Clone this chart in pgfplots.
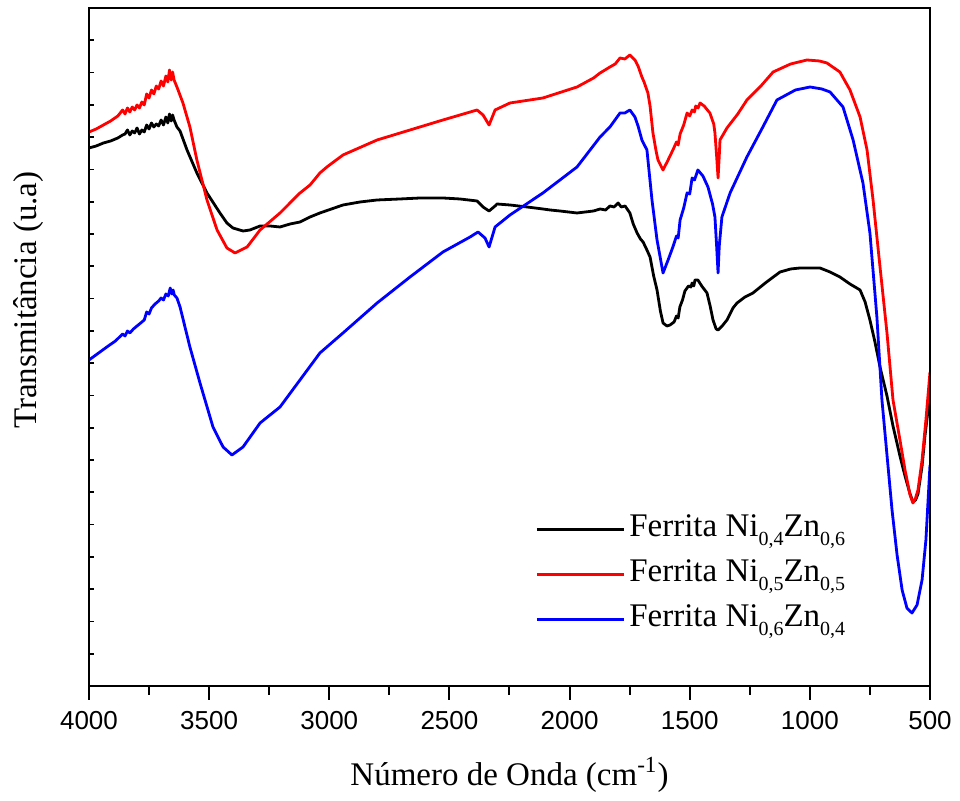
\documentclass[border=0pt]{standalone}
\usepackage{fontspec}
\setmainfont{Liberation Serif}
\newfontfamily\arialfont{Liberation Sans}
\usepackage{pgfplots}
\pgfplotsset{compat=1.18}
\definecolor{myred}{RGB}{255,0,0}
\definecolor{myblue}{RGB}{0,0,255}
\newcommand\sub[1]{\raisebox{-4.5pt}{\fontsize{10}{12}\selectfont #1}}

\pgfplotstableread{
w v
4000 538
3970 540
3940 543
3910 545
3880 548
3860 551
3850 552
3840 556
3830 551
3820 555
3810 553
3800 558
3790 552
3780 556
3770 554
3760 561
3750 557
3740 563
3730 559
3720 562
3710 560
3700 566
3690 561
3680 569
3672 563
3665 572
3658 565
3652 571
3646 566
3634 559
3621 555
3592 536
3551 513
3509 493
3455 473
3426 463
3401 458
3359 455
3330 456
3288 460
3247 460
3205 459
3163 462
3122 464
3080 469
3039 473
2943 481
2872 484
2801 486
2706 487
2622 488
2527 488
2456 487
2385 485
2360 479
2335 475
2310 480
2302 482
2248 481
2177 479
2111 477
2081 476
2040 475
1969 473
1900 475
1873 477
1850 476
1832 480
1815 479
1798 483
1785 479
1769 480
1749 473
1735 462
1719 453
1705 447
1694 444
1680 437
1665 429
1650 410
1636 396
1622 375
1611 363
1595 360
1582 361
1565 364
1555 370
1548 368
1541 379
1530 386
1520 395
1505 400
1495 399
1490 403
1483 400
1478 406
1466 406
1450 400
1428 393
1415 380
1403 366
1390 357
1382 356
1365 360
1345 366
1320 378
1303 383
1270 389
1237 393
1180 404
1124 414
1080 417
1041 418
1012 418
958 418
916 414
875 409
833 402
791 396
770 384
750 366
730 345
708 319
679 290
654 260
625 230
604 210
583 192
571 184
560 186
550 192
533 220
521 250
512 268
500 291
}\blackdata

\pgfplotstableread{
w v
4000 554
3970 557
3940 561
3910 565
3880 570
3860 576
3850 572
3840 578
3830 574
3820 579
3810 576
3800 581
3790 578
3780 584
3770 581
3760 592
3750 588
3740 596
3730 592
3720 600
3710 597
3700 605
3690 600
3680 610
3672 604
3665 616
3658 606
3652 614
3646 606
3634 599
3609 583
3580 559
3551 526
3509 486
3467 456
3426 438
3392 433
3342 439
3288 456
3205 473
3122 493
3080 501
3039 513
3010 519
2943 531
2801 546
2664 556
2527 566
2385 576
2360 571
2335 561
2310 576
2248 583
2111 588
1969 599
1900 608
1873 613
1832 619
1810 622
1790 628
1770 627
1749 631
1728 626
1715 620
1699 609
1690 604
1674 593
1665 580
1653 553
1640 535
1632 526
1611 516
1590 526
1570 536
1555 544
1548 541
1540 552
1525 561
1511 573
1500 570
1490 576
1480 574
1475 580
1465 578
1457 583
1440 580
1416 573
1400 562
1395 553
1388 530
1382 508
1377 530
1374 546
1345 558
1300 572
1262 586
1200 601
1153 614
1080 622
1012 626
960 625
929 623
875 614
833 596
791 569
762 536
737 486
708 419
679 353
654 286
625 246
604 216
583 191
571 183
560 188
550 196
533 226
517 266
500 314
}\reddata

\pgfplotstableread{
w v
4000 326
3960 333
3920 340
3890 345
3860 352
3850 350
3840 355
3830 353
3815 357
3800 360
3785 363
3770 366
3760 374
3750 372
3740 378
3725 382
3710 385
3700 388
3690 386
3680 392
3670 390
3662 398
3655 392
3650 396
3645 391
3634 388
3621 379
3580 339
3538 303
3484 259
3442 239
3405 231
3359 239
3288 263
3205 279
3122 306
3039 333
2943 353
2801 383
2664 409
2527 434
2414 449
2381 454
2352 448
2335 439
2310 459
2248 471
2111 493
1969 519
1873 549
1832 559
1790 573
1770 573
1749 576
1728 569
1715 560
1699 546
1678 536
1657 486
1636 446
1611 413
1590 426
1570 439
1555 450
1548 448
1540 466
1525 478
1511 493
1500 492
1490 508
1480 506
1466 516
1445 510
1424 499
1405 482
1395 469
1388 440
1382 413
1377 440
1366 469
1332 493
1262 529
1200 557
1137 586
1060 596
999 599
950 597
916 594
862 579
820 546
779 503
750 453
721 369
700 286
679 231
658 176
637 131
616 96
596 78
575 73
554 81
533 106
517 146
500 221
}\bluedata

\begin{document}
\fontsize{16}{19}\selectfont
\begin{tikzpicture}
\begin{axis}[
  scale only axis, width=420.5pt, height=339pt,
  x dir=reverse, xmin=500, xmax=4000, ymin=0, ymax=678,
  axis line style={line width=1pt},
  xtick={500,1000,...,4000}, minor x tick num=1,
  xtick pos=bottom, tick align=outside,
  major tick length=7pt, minor tick length=4.5pt,
  tick style={line width=1pt, black},
  ytick=\empty,
  /pgf/number format/1000 sep={},
  /pgf/number format/assume math mode=true,
  xticklabel style={font=\arialfont\fontsize{13}{15}\selectfont},
  xlabel={Número de Onda (cm\textsuperscript{-1})},
  ylabel={Transmitância (u.a)},
  xlabel style={at={(axis description cs:0.5,0)}, anchor=base, yshift=-49.5pt},
  ylabel style={at={(axis description cs:-0.062,0.569)}, anchor=base},
  label style={font=\fontsize{16.5}{19}\selectfont},
  legend style={draw=none, fill=none, at={(axis description cs:0.5233,0.2626)}, anchor=north west,
    font=\fontsize{16.5}{19}\selectfont, nodes={inner sep=0pt, text depth=5pt, text height=12pt}, column sep=2pt, row sep=5.5pt},
  legend cell align=left,
  legend image code/.code={\draw[#1] (0pt,0pt) -- (43.5pt,0pt);},
]
\addplot[black, line width=1.4pt, line join=round] table[x=w,y=v] {\blackdata};
\addlegendentry{Ferrita Ni\sub{0,4}Zn\sub{0,6}}
\addplot[myred, line width=1.4pt, line join=round] table[x=w,y=v] {\reddata};
\addlegendentry{Ferrita Ni\sub{0,5}Zn\sub{0,5}}
\addplot[myblue, line width=1.4pt, line join=round] table[x=w,y=v] {\bluedata};
\addlegendentry{Ferrita Ni\sub{0,6}Zn\sub{0,4}}
\end{axis}
\begin{axis}[
  scale only axis, width=420.5pt, height=339pt,
  x dir=reverse, xmin=500, xmax=4000, ymin=0, ymax=21,
  axis line style={line width=1pt},
  xtick=\empty, ytick={0,1,...,21}, yticklabels={},
  ytick pos=left, tick align=inside, major tick length=2.5pt,
  tick style={line width=0.9pt, black},
]
\end{axis}
\pgfresetboundingbox
\path ([shift={(-44.5pt,-57pt)}]current axis.south west) rectangle ([shift={(15pt,4pt)}]current axis.north east);
\end{tikzpicture}
\end{document}
